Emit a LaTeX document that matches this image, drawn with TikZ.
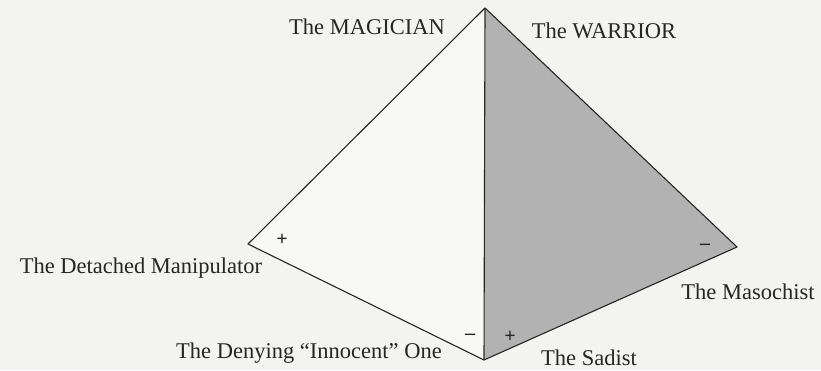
\documentclass[tikz,border=0pt]{standalone}
\usepackage{fontspec}
\setmainfont{Liberation Serif}
\definecolor{bgcol}{RGB}{243,243,241}
\definecolor{lightface}{RGB}{248,248,246}
\begin{document}
\begin{tikzpicture}[x=1pt,y=-1pt,
  lbl/.style={font=\fontsize{22.5}{24}\selectfont, inner sep=0pt, text=black!85},
  sign/.style={font=\fontsize{20}{22}\selectfont\bfseries, inner sep=0pt, text=black!85},
  edge/.style={draw=black!85, line width=1.1pt, line join=round}]
\useasboundingbox[fill=bgcol] (0,0) rectangle (821,370);
\coordinate (T) at (485,8);
\coordinate (L) at (248,244);
\coordinate (B) at (484,360);
\coordinate (R) at (737,247);
\fill[gray!60] (T) -- (R) -- (B) -- cycle;
\fill[lightface] (T) -- (L) -- (B) -- cycle;
\draw[edge] (T) -- (L) -- (B) -- (R) -- cycle;
\draw[edge] (T) -- (B);
\node[lbl] (mag) at (367,27) {The MAGICIAN};
\node[lbl] (war) at (604,31) {The WARRIOR};
\node[lbl] (det) at (141,268) {The Detached Manipulator};
\node[lbl] (mas) at (748,292) {The Masochist};
\node[lbl] (den) at (309,353) {The Denying “Innocent” One};
\node[lbl] (sad) at (589,358) {The Sadist};
\node[sign] (p1) at (282,240) {+};
\node[sign] (p2) at (510,337) {+};
\node[sign] (m1) at (470,337) {–};
\node[sign] (m2) at (705,247) {–};
\end{tikzpicture}
\end{document}
